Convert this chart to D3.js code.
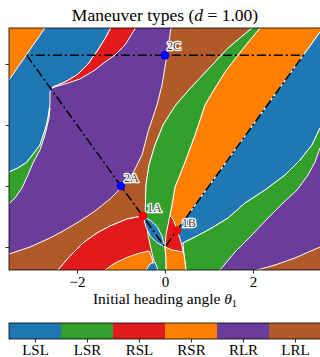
<!DOCTYPE html>
<html>
<head>
<meta charset="utf-8">
<script src="https://cdnjs.cloudflare.com/ajax/libs/d3/7.8.5/d3.min.js"></script>
<style>
  body { margin: 0; background: #fff; }
  svg { display: block; }
  text { font-family: "Liberation Serif", "DejaVu Serif", serif; }
</style>
</head>
<body>
<div id="chart"></div>
<script>
// ---- data (theta1, theta2) ----
const types = ['LSL', 'LSR', 'RSL', 'RSR', 'RLR', 'LRL'];
const typeColors = ['#1f78b4', '#33a02c', '#e31a1c', '#ff7f00', '#6a3d9a', '#b15928'];
const xTicks = [-2, 0, 2];
const yTicks = [0, 1, 2, 3];

// region outlines, one array per patch
const rlrBack = [[-3.7, 3.7], [3.7, 3.7], [3.7, -0.5], [-3.7, -0.5]];
const lrlMain = [[0.15, 3.65], [2.08, 3.65], [1.705, 3.426], [1.432, 3.262], [1.136, 3.033], [0.795, 2.77],
  [0.5, 2.541], [0.227, 2.311], [-0.045, 2.0], [-0.227, 1.672], [-0.364, 1.344], [-0.432, 1.016],
  [-0.443, 0.77], [-0.43, 0.607], [-0.41, 0.53], [-0.5, 0.51], [-0.864, 0.459], [-1.25, 0.344],
  [-1.545, 0.23], [-1.864, 0.066], [-2.159, -0.148], [-2.432, -0.377], [-2.5, -0.45], [-3.7, -0.45],
  [-3.7, -0.12], [-3.545, -0.115], [-3.068, 0], [-2.614, 0.148], [-2.273, 0.279], [-1.932, 0.426],
  [-1.591, 0.59], [-1.25, 0.787], [-0.977, 0.984], [-0.727, 1.213], [-0.523, 1.508], [-0.386, 1.885],
  [-0.182, 2.328], [-0.068, 2.656], [0.045, 3.148], [0.136, 3.59]];
const lrlCorner = [[2.05, -0.45], [2.091, -0.377], [2.5, -0.295], [2.955, -0.18], [3.523, 0], [3.7, 0.06], [3.7, -0.45]];
const rsrUpper = [[3.65, 3.65], [0, 0], [0.023, 0.197], [0.068, 0.361], [0.159, 0.689], [0.227, 0.984],
  [0.455, 1.393], [0.682, 1.836], [0.909, 2.328], [1.068, 2.525], [1.364, 2.869], [1.659, 3.148],
  [1.932, 3.393], [2.159, 3.59], [2.23, 3.65]];
const lslRight = [[0.15, 0.15], [3.65, 3.65], [3.7, 3.7], [3.7, 2.05], [3.523, 1.951], [3.341, 1.672],
  [3.068, 1.426], [2.727, 1.18], [2.273, 0.934], [1.818, 0.721], [1.432, 0.475], [1.023, 0.295],
  [0.682, 0.164], [0.409, 0.066], [0.3, 0]];
const lsrRight = [[3.7, 2.05], [3.523, 1.951], [3.341, 1.672], [3.068, 1.426], [2.727, 1.18], [2.273, 0.934],
  [1.818, 0.721], [1.432, 0.475], [1.023, 0.295], [0.682, 0.164], [0.409, 0.066], [0.432, -0.131],
  [0.48, -0.45], [1.16, -0.45], [1.25, -0.377], [1.591, -0.082], [1.977, 0.197], [2.341, 0.475],
  [2.682, 0.721], [3.0, 0.934], [3.25, 1.18], [3.409, 1.393], [3.523, 1.623], [3.7, 1.75]];
const rslDome = [[-2.5, -0.45], [-2.432, -0.377], [-2.159, -0.148], [-1.864, 0.066], [-1.545, 0.23],
  [-1.25, 0.344], [-0.864, 0.459], [-0.5, 0.51], [-0.227, 0.59], [0.023, 0.574], [0.182, 0.459],
  [0.273, 0.279], [0.364, 0.082], [0.432, -0.131], [0.477, -0.377], [0.48, -0.45]];
const lsrCenter = [[2.08, 3.65], [1.705, 3.426], [1.432, 3.262], [1.136, 3.033], [0.795, 2.77], [0.5, 2.541],
  [0.227, 2.311], [-0.045, 2.0], [-0.227, 1.672], [-0.364, 1.344], [-0.432, 1.016], [-0.443, 0.77],
  [-0.45, 0.607], [-0.432, 0.525], [-0.386, 0.197], [-0.302, -0.082], [-0.227, -0.295], [-0.2, -0.45],
  [0.03, -0.45], [0.023, -0.18], [0, 0], [0.023, 0.197], [0.068, 0.361], [0.159, 0.689], [0.227, 0.984],
  [0.455, 1.393], [0.682, 1.836], [0.909, 2.328], [1.068, 2.525], [1.364, 2.869], [1.659, 3.148],
  [1.932, 3.393], [2.159, 3.59], [2.23, 3.65]];
const rsrLowLeft = [[-1.4, -0.45], [-1.364, -0.377], [-1.136, -0.262], [-0.841, -0.164], [-0.568, -0.098],
  [-0.364, -0.066], [-0.295, -0.18], [-0.25, -0.377], [-0.24, -0.45]];
const lslSliver = [[-0.44, -0.45], [-0.432, -0.377], [-0.341, -0.279], [-0.227, -0.246], [-0.159, -0.377], [-0.15, -0.45]];
const rsrLowRight = [[0, 0], [0.159, -0.049], [0.295, -0.066], [0.409, -0.082], [0.432, -0.131],
  [0.477, -0.377], [0.48, -0.45], [0.03, -0.45], [0.023, -0.18]];
const lslLens = [[-0.5, 0.51], [-0.32, 0.43], [-0.172, 0.328], [-0.07, 0.18], [0, 0], [-0.18, 0.07],
  [-0.328, 0.172], [-0.43, 0.32]];
const lslLeft = [[-3.7, 3.65], [-1.19, 3.65], [-1.341, 3.443], [-1.523, 3.23], [-1.75, 3.0], [-2.0, 2.82],
  [-2.273, 2.705], [-2.545, 2.623], [-2.614, 2.541], [-2.614, 2.344], [-2.659, 2.115], [-2.705, 1.967],
  [-2.841, 1.672], [-3.136, 1.393], [-3.341, 1.295], [-3.545, 1.23], [-3.7, 1.2]];
const rsrCorner = [[-3.7, 3.65], [-2.66, 3.65], [-2.727, 3.59], [-3.136, 3.164], [-3.545, 2.738], [-3.7, 2.68]];
const rslCrescent = [[-1.19, 3.65], [-1.341, 3.443], [-1.523, 3.23], [-1.75, 3.0], [-2.0, 2.82], [-2.273, 2.705],
  [-2.545, 2.623], [-2.57, 2.61], [-2.273, 2.672], [-1.932, 2.754], [-1.591, 2.902], [-1.364, 3.033],
  [-1.136, 3.148], [-0.909, 3.311], [-0.62, 3.65]];
const lsrLeft = [[-2.614, 2.279], [-2.659, 2.115], [-2.705, 1.967], [-2.841, 1.672], [-3.136, 1.393],
  [-3.341, 1.295], [-3.545, 1.23], [-3.7, 1.2], [-3.7, 0.6], [-3.409, 0.803], [-3.25, 0.967],
  [-3.114, 1.18], [-3.0, 1.377], [-2.841, 1.59], [-2.727, 1.836], [-2.636, 2.115]];

// drawing order: [type, outline]
const regions = [
  ['RLR', rlrBack], ['LRL', lrlMain], ['LRL', lrlCorner], ['RSR', rsrUpper], ['LSL', lslRight],
  ['LSR', lsrRight], ['RSL', rslDome], ['LSR', lsrCenter], ['RSR', rsrLowLeft], ['LSL', lslSliver],
  ['RSR', rsrLowRight], ['LSL', lslLens], ['LSL', lslLeft], ['RSR', rsrCorner], ['RSL', rslCrescent],
  ['LSR', lsrLeft]
];

// dash-dot path and marked cases
const guidePath = [[-Math.PI, Math.PI], [0, 0], [Math.PI, Math.PI], [-Math.PI, Math.PI]];
const caseNames = ['2C', '2A', '1A', '1B'];
const caseX = [0, -1.0, -0.5, 0.27];
const caseY = [Math.PI, 1.0, 0.51, 0.27];
const caseColors = ['#0000ff', '#0000ff', '#ff0000', '#ff0000'];

// ---- layout ----
const W = 320, H = 357;
const plot = { left: 9, right: 321, top: 28, bottom: 270 };

const svg = d3.select('#chart').append('svg')
  .attr('width', W)
  .attr('height', H);

const x = d3.scaleLinear().domain([-3.545, 3.545]).range([plot.left, plot.right]);
const y = d3.scaleLinear().domain([-0.377, 3.59]).range([plot.bottom, plot.top]);
const color = d3.scaleOrdinal().domain(types).range(typeColors);

svg.append('defs').append('clipPath')
  .attr('id', 'plot-clip')
  .append('rect')
  .attr('x', plot.left)
  .attr('y', plot.top)
  .attr('width', plot.right - plot.left)
  .attr('height', plot.bottom - plot.top);

const g = svg.append('g').attr('clip-path', 'url(#plot-clip)');

const area = d3.line().x(d => x(d[0])).y(d => y(d[1]));

// colored regions with white contour edges
g.selectAll('.region')
  .data(regions)
  .enter()
  .append('path')
  .attr('class', 'region')
  .attr('d', d => area(d[1]) + 'Z')
  .attr('fill', d => color(d[0]))
  .attr('stroke', '#fff')
  .attr('stroke-width', 1)
  .attr('stroke-linejoin', 'round');

// dash-dot guide
g.append('path')
  .attr('d', area(guidePath))
  .attr('fill', 'none')
  .attr('stroke', '#000')
  .attr('stroke-width', 1.5)
  .attr('stroke-dasharray', '9,3,2,3');

// case points
const labelOffset = { '2C': [2, -5], '2A': [3, -4], '1A': [4, -4], '1B': [5, -4] };

g.selectAll('.case-pt')
  .data(caseNames)
  .enter()
  .append('circle')
  .attr('class', 'case-pt')
  .attr('cx', (d, i) => x(caseX[i]))
  .attr('cy', (d, i) => y(caseY[i]))
  .attr('r', 4.3)
  .attr('fill', (d, i) => caseColors[i]);

svg.selectAll('.case-label')
  .data(caseNames)
  .enter()
  .append('text')
  .attr('class', 'case-label')
  .attr('x', (d, i) => x(caseX[i]) + labelOffset[d][0])
  .attr('y', (d, i) => y(caseY[i]) + labelOffset[d][1])
  .attr('font-size', 12)
  .attr('fill', '#444')
  .attr('stroke', '#fff')
  .attr('stroke-width', 2.5)
  .attr('paint-order', 'stroke')
  .attr('stroke-linejoin', 'round')
  .text(d => d);

// frame
svg.append('rect')
  .attr('x', plot.left)
  .attr('y', plot.top)
  .attr('width', plot.right - plot.left)
  .attr('height', plot.bottom - plot.top)
  .attr('fill', 'none')
  .attr('stroke', '#000')
  .attr('stroke-width', 0.8);

// axes
const xAxis = svg.append('g')
  .attr('transform', `translate(0,${plot.bottom})`)
  .call(d3.axisBottom(x).tickValues(xTicks).tickSize(3.5).tickPadding(3)
    .tickFormat(d => d < 0 ? '\u2212' + Math.abs(d) : d));
xAxis.select('.domain').remove();
xAxis.selectAll('line').attr('stroke-width', 0.8);
xAxis.selectAll('text').attr('font-size', 15).attr('font-family', '"Liberation Serif", serif');

const yAxis = svg.append('g')
  .attr('transform', `translate(${plot.left},0)`)
  .call(d3.axisLeft(y).tickValues(yTicks).tickSize(3.5).tickFormat(''));
yAxis.select('.domain').remove();
yAxis.selectAll('line').attr('stroke-width', 0.8);

// title
const title = svg.append('text')
  .attr('x', (plot.left + plot.right) / 2)
  .attr('y', 21)
  .attr('text-anchor', 'middle')
  .attr('font-size', 17.5);
title.append('tspan').text('Maneuver types (');
title.append('tspan').attr('font-style', 'italic').text('d');
title.append('tspan').text(' = 1.00)');

// x label
const xlab = svg.append('text')
  .attr('x', (plot.left + plot.right) / 2)
  .attr('y', 304)
  .attr('text-anchor', 'middle')
  .attr('font-size', 15.5);
xlab.append('tspan').text('Initial heading angle ');
xlab.append('tspan').attr('font-style', 'italic').text('\u03b8');
xlab.append('tspan').attr('font-size', 10.5).attr('dy', 3).text('1');

// colorbar
const cb = { top: 323, bottom: 339 };
const cbx = d3.scaleBand().domain(types).range([plot.left, plot.right]);

svg.selectAll('.cb-cell')
  .data(types)
  .enter()
  .append('rect')
  .attr('class', 'cb-cell')
  .attr('x', d => cbx(d))
  .attr('y', cb.top)
  .attr('width', cbx.bandwidth())
  .attr('height', cb.bottom - cb.top)
  .attr('fill', d => color(d));

svg.append('rect')
  .attr('x', plot.left)
  .attr('y', cb.top)
  .attr('width', plot.right - plot.left)
  .attr('height', cb.bottom - cb.top)
  .attr('fill', 'none')
  .attr('stroke', '#000')
  .attr('stroke-width', 0.8);

const cbAxis = svg.append('g')
  .attr('transform', `translate(0,${cb.bottom})`)
  .call(d3.axisBottom(d3.scalePoint().domain(types).range([cbx('LSL') + cbx.bandwidth() / 2, cbx('LRL') + cbx.bandwidth() / 2]))
    .tickSize(3.5).tickPadding(2));
cbAxis.select('.domain').remove();
cbAxis.selectAll('line').attr('stroke-width', 0.8);
cbAxis.selectAll('text').attr('font-size', 15).attr('font-family', '"Liberation Serif", serif');
</script>
</body>
</html>
